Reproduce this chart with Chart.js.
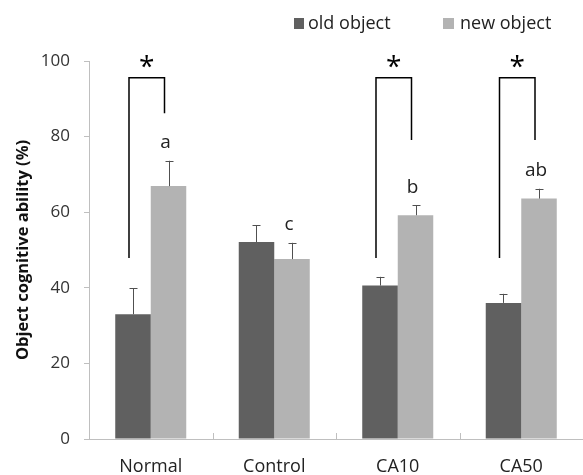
<!DOCTYPE html>
<html>
<head>
<meta charset="utf-8">
<script src="https://cdn.jsdelivr.net/npm/chart.js@4"></script>
<style>
  html, body { margin: 0; padding: 0; background: #fff; }
  #wrap { width: 583px; height: 475px; }
</style>
</head>
<body>
<div id="wrap"><canvas id="objectBar" width="583" height="475"></canvas></div>
<script>
const categories = ["Normal", "Control", "CA10", "CA50"];
const oldValues = [33.0, 52.1, 40.6, 36.0];
const newValues = [66.9, 47.6, 59.2, 63.6];
const oldErrors = [6.9, 4.4, 2.3, 2.4];
const newErrors = [6.7, 4.3, 2.6, 2.6];
const groupLetters = ["a", "c", "b", "ab"];
const yTicks = [0, 20, 40, 60, 80, 100];

// significance brackets: which groups, top of bracket, where each leg stops
const bracketGroups = [0, 2, 3];
const bracketTop = 95.6;
const bracketLeftEnd = [47.9, 47.9, 47.9];
const bracketRightEnd = [86.2, 79.1, 79.1];

const colors = {
  old: "#606060",
  new: "#b3b3b3",
  axis: "#bfbfbf",
  text: "#222222",
};
const fontFamily = "'Open Sans', 'DejaVu Sans', sans-serif";

const annotatePlugin = {
  id: "annotate",
  afterDatasetsDraw(chart) {
    const ctx = chart.ctx;
    const y = chart.scales.y;
    const x = chart.scales.x;
    const area = chart.chartArea;
    const metaOld = chart.getDatasetMeta(0);
    const metaNew = chart.getDatasetMeta(1);
    const errs = [oldErrors, newErrors];
    const vals = [oldValues, newValues];

    ctx.save();

    // x axis tick marks between groups (pointing up)
    ctx.strokeStyle = colors.axis;
    ctx.lineWidth = 1;
    for (let i = 1; i < categories.length; i++) {
      const px = Math.round((x.getPixelForValue(i - 1) + x.getPixelForValue(i)) / 2) + 0.5;
      ctx.beginPath();
      ctx.moveTo(px, area.bottom);
      ctx.lineTo(px, area.bottom - 6);
      ctx.stroke();
    }

    // error bars (upper only)
    ctx.strokeStyle = "#505050";
    [metaOld, metaNew].forEach((meta, d) => {
      meta.data.forEach((bar, i) => {
        const cx = Math.round(bar.x) + 0.5;
        const top = y.getPixelForValue(vals[d][i] + errs[d][i]);
        ctx.beginPath();
        ctx.moveTo(cx, bar.y);
        ctx.lineTo(cx, top);
        ctx.moveTo(cx - 4, Math.round(top) + 0.5);
        ctx.lineTo(cx + 4, Math.round(top) + 0.5);
        ctx.stroke();
      });
    });

    // group letters above new object bars
    ctx.fillStyle = colors.text;
    ctx.font = "19px " + fontFamily;
    ctx.textAlign = "center";
    ctx.textBaseline = "alphabetic";
    metaNew.data.forEach((bar, i) => {
      const ty = y.getPixelForValue(newValues[i] + newErrors[i] + 3.3);
      ctx.fillText(groupLetters[i], bar.x - 3, ty);
    });

    // significance brackets with stars
    ctx.strokeStyle = "#000";
    ctx.lineWidth = 1.5;
    bracketGroups.forEach((g, k) => {
      const lx = metaOld.data[g].x - 4;
      const rx = metaNew.data[g].x - 4;
      const ty = y.getPixelForValue(bracketTop);
      ctx.beginPath();
      ctx.moveTo(lx, y.getPixelForValue(bracketLeftEnd[k]));
      ctx.lineTo(lx, ty);
      ctx.lineTo(rx, ty);
      ctx.lineTo(rx, y.getPixelForValue(bracketRightEnd[k]));
      ctx.stroke();
      ctx.font = "28px " + fontFamily;
      ctx.textBaseline = "alphabetic";
      ctx.fillStyle = "#000";
      ctx.fillText("*", (lx + rx) / 2, ty - 2);
    });

    // legend
    ctx.textAlign = "left";
    ctx.textBaseline = "alphabetic";
    ctx.font = "18px " + fontFamily;
    ctx.fillStyle = colors.old;
    ctx.fillRect(294, 18, 10, 11);
    ctx.fillStyle = colors.new;
    ctx.fillRect(443, 18, 11, 11);
    ctx.fillStyle = colors.text;
    ctx.fillText("old object", 308, 29);
    ctx.fillText("new object", 460, 29);

    ctx.restore();
  },
};

const ctx = document.getElementById("objectBar").getContext("2d");
const objectChart = new Chart(ctx, {
  type: "bar",
  data: {
    labels: categories,
    datasets: [
      {
        label: "old object",
        data: oldValues,
        backgroundColor: colors.old,
        categoryPercentage: 0.575,
        barPercentage: 1.0,
      },
      {
        label: "new object",
        data: newValues,
        backgroundColor: colors.new,
        categoryPercentage: 0.575,
        barPercentage: 1.0,
      },
    ],
  },
  options: {
    responsive: false,
    animation: false,
    layout: {
      padding: { top: 61, right: 0, left: 0, bottom: 0 },
    },
    scales: {
      y: {
        min: 0,
        max: 100,
        afterBuildTicks: (scale) => {
          scale.ticks = yTicks.map((v) => ({ value: v }));
        },
        afterFit: (scale) => {
          scale.width = 89;
        },
        border: { display: true, color: colors.axis, width: 1 },
        grid: {
          drawOnChartArea: false,
          drawTicks: true,
          tickLength: 5,
          color: colors.axis,
        },
        ticks: {
          color: "#333",
          padding: 14,
          font: { family: fontFamily, size: 17 },
        },
        title: {
          display: true,
          text: "Object cognitive ability (%)",
          color: "#111",
          font: { family: fontFamily, size: 16.5, weight: "bold" },
          padding: { top: 13, bottom: 0 },
        },
      },
      x: {
        afterFit: (scale) => {
          scale.height = 36;
        },
        border: { display: true, color: colors.axis, width: 1 },
        grid: { display: false },
        ticks: {
          color: "#222",
          padding: 9,
          font: { family: fontFamily, size: 18 },
        },
      },
    },
    plugins: {
      legend: { display: false },
      tooltip: { enabled: false },
    },
  },
  plugins: [annotatePlugin],
});
</script>
</body>
</html>
